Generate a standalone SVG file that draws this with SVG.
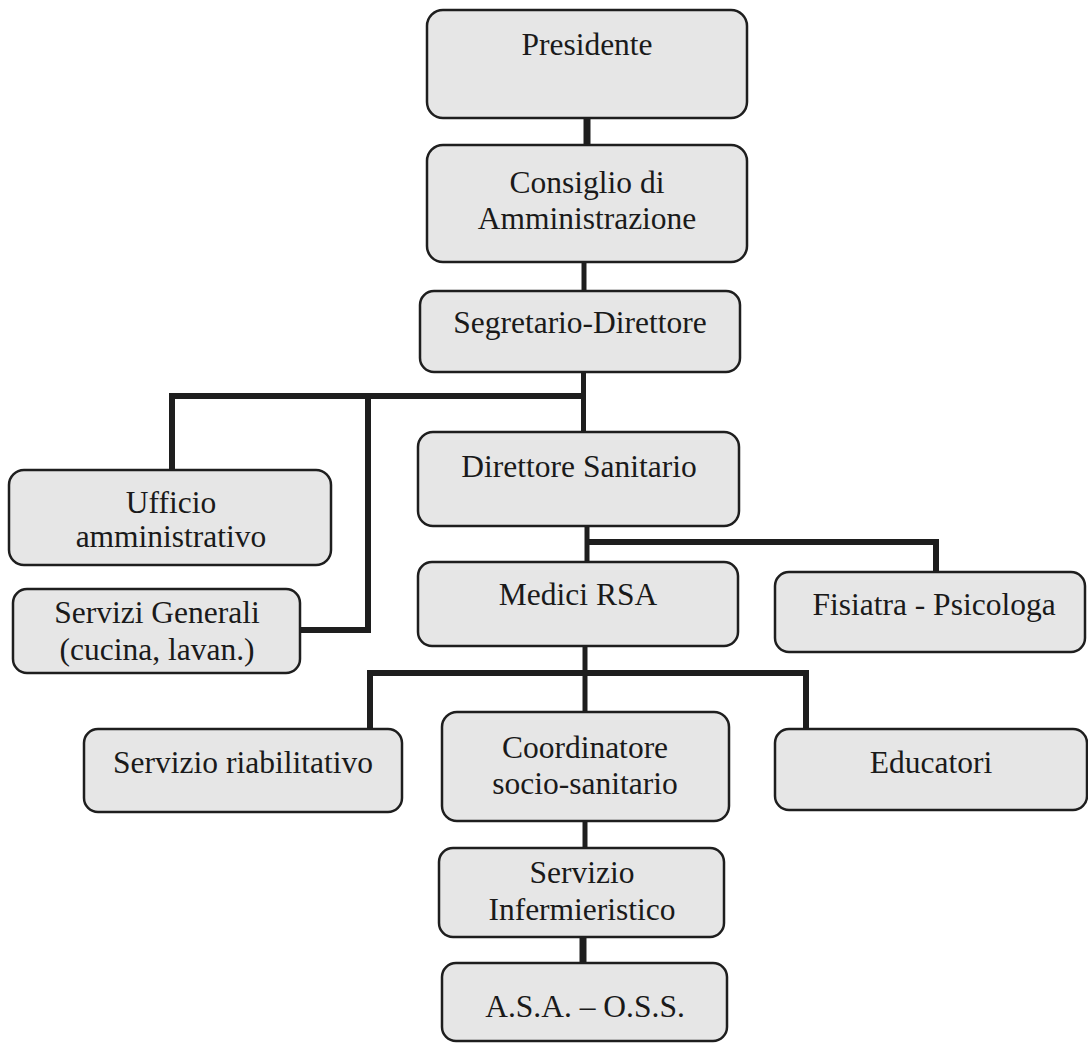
<svg xmlns="http://www.w3.org/2000/svg" width="1088" height="1043" viewBox="0 0 1088 1043">
<style>
.box{fill:#e6e6e6;stroke:#1e1e1e;stroke-width:2.5}
.t{font-family:"Liberation Serif","Times New Roman",serif;font-size:31.5px;fill:#1a1a1a;text-anchor:middle}
.c{fill:none;stroke:#1e1e1e;stroke-width:6;stroke-linejoin:miter;stroke-linecap:butt}
</style>
<rect width="1088" height="1043" fill="#ffffff"/>
<g id="connectors">
<path class="c" d="M587 118V145" style="stroke-width:7"/>
<path class="c" d="M584 262V291" style="stroke-width:5"/>
<path class="c" d="M583.5 372V432" style="stroke-width:5"/>
<path class="c" d="M583.5 396H172V470"/>
<path class="c" d="M368 396V630H300"/>
<path class="c" d="M587 526V562" style="stroke-width:5"/>
<path class="c" d="M587 542H936V572"/>
<path class="c" d="M585 646V712" style="stroke-width:5"/>
<path class="c" d="M370 729V673H806V729"/>
<path class="c" d="M585 821V848" style="stroke-width:5"/>
<path class="c" d="M583 937V963" style="stroke-width:7"/>
</g>
<g id="presidente"><rect class="box" x="427" y="10" width="320" height="108" rx="16"/><text class="t" x="587" y="55">Presidente</text></g>
<g id="consiglio"><rect class="box" x="427" y="145" width="320" height="117" rx="16"/><text class="t" x="587" y="193">Consiglio di</text><text class="t" x="587" y="229">Amministrazione</text></g>
<g id="segretario"><rect class="box" x="420" y="291" width="320" height="81" rx="14"/><text class="t" x="580" y="333">Segretario-Direttore</text></g>
<g id="direttore-sanitario"><rect class="box" x="418" y="432" width="321" height="94" rx="15"/><text class="t" x="579" y="477">Direttore Sanitario</text></g>
<g id="medici-rsa"><rect class="box" x="418" y="562" width="320" height="84" rx="14"/><text class="t" x="578" y="605">Medici RSA</text></g>
<g id="fisiatra"><rect class="box" x="775" y="572" width="310" height="80" rx="14"/><text class="t" x="934" y="615">Fisiatra - Psicologa</text></g>
<g id="ufficio"><rect class="box" x="9" y="470" width="322" height="95" rx="15"/><text class="t" x="171" y="513">Ufficio</text><text class="t" x="171" y="547">amministrativo</text></g>
<g id="servizi-generali"><rect class="box" x="13" y="589" width="287" height="84" rx="14"/><text class="t" x="157" y="623">Servizi Generali</text><text class="t" x="157" y="660">(cucina, lavan.)</text></g>
<g id="servizio-riabilitativo"><rect class="box" x="84" y="729" width="318" height="83" rx="14"/><text class="t" x="243" y="773">Servizio riabilitativo</text></g>
<g id="coordinatore"><rect class="box" x="442" y="712" width="287" height="109" rx="15"/><text class="t" x="585" y="758">Coordinatore</text><text class="t" x="585" y="794">socio-sanitario</text></g>
<g id="educatori"><rect class="box" x="775" y="729" width="312" height="81" rx="14"/><text class="t" x="931" y="773">Educatori</text></g>
<g id="servizio-infermieristico"><rect class="box" x="439" y="848" width="285" height="89" rx="14"/><text class="t" x="582" y="883">Servizio</text><text class="t" x="582" y="920">Infermieristico</text></g>
<g id="asa-oss"><rect class="box" x="442" y="963" width="285" height="78" rx="14"/><text class="t" x="585" y="1017">A.S.A. – O.S.S.</text></g>
</svg>
